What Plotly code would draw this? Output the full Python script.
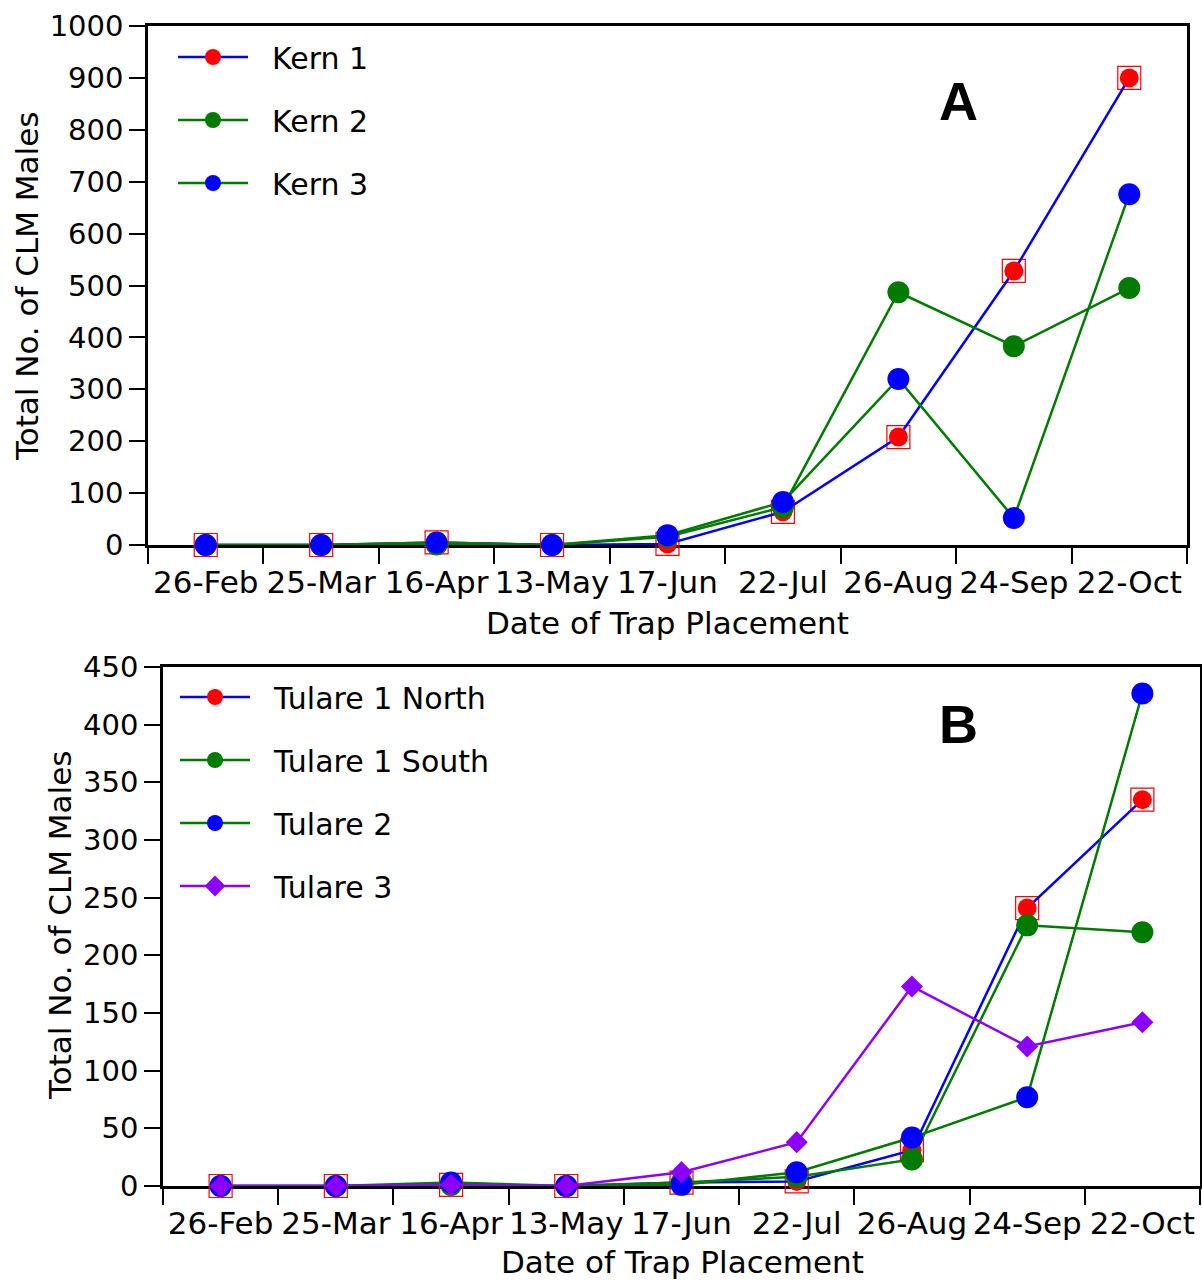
import plotly.graph_objects as go

dates = ["26-Feb", "25-Mar", "16-Apr", "13-May", "17-Jun", "22-Jul", "26-Aug", "24-Sep", "22-Oct"]

kern1 = [0, 0, 5, 0, 2, 64, 208, 528, 900]
kern2 = [0, 0, 1, 0, 16, 73, 487, 383, 495]
kern3 = [0, 0, 5, 0, 19, 83, 320, 52, 676]

tulare1_north = [0, 0, 1, 0, 3, 4, 31, 241, 335]
tulare1_south = [0, 0, 1, 0, 3, 8, 23, 226, 220]
tulare2 = [0, 0, 3, 0, 1, 12, 42, 77, 427]
tulare3 = [0, 0, 1, 0, 12, 38, 173, 121, 142]

top_yticks = list(range(0, 1001, 100))
bottom_yticks = list(range(0, 451, 50))

RED = "#ff0000"
BLUE = "#0000ff"
GREEN = "#007a00"
PURPLE = "#8c00ff"
FONT = "DejaVu Sans"
PAD = "\u00a0\u00a0"

fig = go.Figure()


def square_series(y, xa, ya, grp, leg):
    fig.add_trace(go.Scatter(
        x=dates, y=y, mode="markers", xaxis=xa, yaxis=ya,
        marker=dict(symbol="square-open", size=23, color=RED, line=dict(width=1.2, color=RED)),
        showlegend=False, legendgroup=grp, legend=leg, cliponaxis=False, hoverinfo="skip"))


def series(y, name, xa, ya, line_color, marker_color, symbol, size, leg):
    fig.add_trace(go.Scatter(
        x=dates, y=y, mode="lines+markers", name=PAD + name, xaxis=xa, yaxis=ya,
        line=dict(color=line_color, width=2.5),
        marker=dict(symbol=symbol, size=size, color=marker_color, line=dict(width=0)),
        legendgroup=name, legend=leg, cliponaxis=False))


# Panel A
square_series(kern1, "x", "y", "Kern 1", "legend")
series(kern1, "Kern 1", "x", "y", BLUE, RED, "circle", 19, "legend")
series(kern2, "Kern 2", "x", "y", GREEN, GREEN, "circle", 22, "legend")
series(kern3, "Kern 3", "x", "y", GREEN, BLUE, "circle", 22, "legend")

# Panel B
square_series(tulare1_north, "x2", "y2", "Tulare 1 North", "legend2")
series(tulare1_north, "Tulare 1 North", "x2", "y2", BLUE, RED, "circle", 19, "legend2")
series(tulare1_south, "Tulare 1 South", "x2", "y2", GREEN, GREEN, "circle", 22, "legend2")
series(tulare2, "Tulare 2", "x2", "y2", GREEN, BLUE, "circle", 22, "legend2")
series(tulare3, "Tulare 3", "x2", "y2", PURPLE, PURPLE, "diamond", 17, "legend2")

W, H = 1202, 1282


def px_x(v):
    return v / W


def px_y(v):
    return 1 - v / H


common = dict(showline=True, linecolor="black", linewidth=2.5, mirror=True,
              ticks="outside", ticklen=16, tickwidth=2, tickcolor="black",
              showgrid=False, zeroline=False, layer="below traces", automargin=False)

xcommon = dict(common, type="category", categoryorder="array", categoryarray=dates,
               tickson="boundaries", range=[-0.5, 8.5], tickangle=0, ticklabelstandoff=8,
               tickfont=dict(family=FONT, size=31, color="black"))
ycommon = dict(common, tickfont=dict(family=FONT, size=29, color="black"))

fig.update_layout(
    template="none",
    width=W, height=H,
    margin=dict(l=0, r=0, t=0, b=0, pad=0),
    paper_bgcolor="white", plot_bgcolor="white",
    font=dict(family=FONT, color="black"),
    xaxis=dict(xcommon, domain=[px_x(148), px_x(1187)], anchor="y"),
    yaxis=dict(ycommon, domain=[px_y(545), px_y(26)], anchor="x", range=[0, 1000],
               tickvals=top_yticks),
    xaxis2=dict(xcommon, domain=[px_x(163), px_x(1200)], anchor="y2"),
    yaxis2=dict(ycommon, domain=[px_y(1186), px_y(667)], anchor="x2", range=[0, 450],
                tickvals=bottom_yticks),
    legend=dict(x=px_x(173), y=px_y(31), xanchor="left", yanchor="top",
                font=dict(family=FONT, size=30, color="black"),
                bgcolor="rgba(0,0,0,0)", borderwidth=0, itemwidth=70, tracegroupgap=21),
    legend2=dict(x=px_x(175), y=px_y(671), xanchor="left", yanchor="top",
                 font=dict(family=FONT, size=30, color="black"),
                 bgcolor="rgba(0,0,0,0)", borderwidth=0, itemwidth=70, tracegroupgap=21),
    showlegend=True,
)

ann_font = dict(family=FONT, size=31, color="black")
ann_common = dict(xref="paper", yref="paper", showarrow=False, xanchor="center", yanchor="middle")
fig.add_annotation(text="Date of Trap Placement", x=px_x(668), y=px_y(623), font=ann_font, **ann_common)
fig.add_annotation(text="Date of Trap Placement", x=px_x(682), y=px_y(1262), font=ann_font, **ann_common)
fig.add_annotation(text="Total No. of CLM Males", x=px_x(27), y=px_y(287), textangle=-90,
                   font=ann_font, **ann_common)
fig.add_annotation(text="Total No. of CLM Males", x=px_x(60), y=px_y(926), textangle=-90,
                   font=ann_font, **ann_common)
fig.add_annotation(text="<b>A</b>", x=px_x(958), y=px_y(101),
                   font=dict(family="Liberation Sans", size=54, color="black"), **ann_common)
fig.add_annotation(text="<b>B</b>", x=px_x(958), y=px_y(724),
                   font=dict(family="Liberation Sans", size=54, color="black"), **ann_common)

fig.write_html("out.html")
